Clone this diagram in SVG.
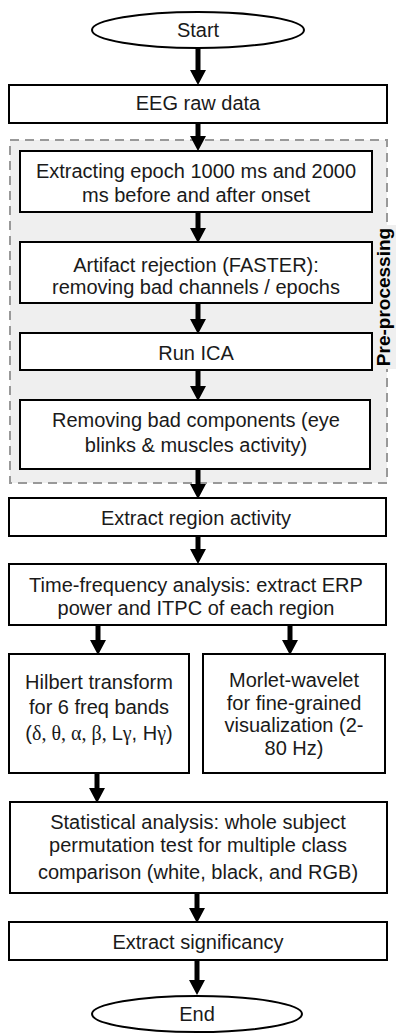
<svg xmlns="http://www.w3.org/2000/svg" width="397" height="1033" viewBox="0 0 397 1033">
<style>
.box{fill:#fff;stroke:#000;stroke-width:2}
.t{font-family:"Liberation Sans",Arial,sans-serif;font-size:20px;fill:#1a1a1a;text-anchor:middle}
.g{font-family:"Liberation Serif","Times New Roman",serif}
.ar{stroke:#000;stroke-width:5;fill:none}
.hd{fill:#000}
</style>
<rect width="397" height="1033" fill="#fff"/>
<g id="preprocessing-region">
<rect x="10" y="140" width="377" height="343" fill="#efefef" stroke="#999" stroke-width="2" stroke-dasharray="9,6"/>
<rect x="376" y="225" width="20" height="144" fill="#efefef"/>
<text transform="translate(390,297) rotate(-90)" font-family="Liberation Sans,Arial,sans-serif" font-size="19" font-weight="bold" fill="#000" text-anchor="middle">Pre-processing</text>
</g>
<g id="connectors">
<line class="ar" x1="198" y1="48" x2="198" y2="72"/><polygon class="hd" points="190,70 206,70 198,85"/>
<line class="ar" x1="198" y1="123" x2="198" y2="138"/><polygon class="hd" points="190,136 206,136 198,151"/>
<line class="ar" x1="198" y1="212" x2="198" y2="230"/><polygon class="hd" points="190,228 206,228 198,243"/>
<line class="ar" x1="198" y1="303" x2="198" y2="321"/><polygon class="hd" points="190,319 206,319 198,334"/>
<line class="ar" x1="198" y1="370" x2="198" y2="388"/><polygon class="hd" points="190,386 206,386 198,401"/>
<line class="ar" x1="198" y1="469" x2="198" y2="486"/><polygon class="hd" points="190,484 206,484 198,499"/>
<line class="ar" x1="198" y1="536" x2="198" y2="551"/><polygon class="hd" points="190,549 206,549 198,564"/>
<line class="ar" x1="98" y1="625" x2="98" y2="642"/><polygon class="hd" points="90,640 106,640 98,655"/>
<line class="ar" x1="290" y1="625" x2="290" y2="642"/><polygon class="hd" points="282,640 298,640 290,655"/>
<line class="ar" x1="97" y1="773" x2="97" y2="790"/><polygon class="hd" points="89,788 105,788 97,803"/>
<line class="ar" x1="197" y1="893" x2="197" y2="910"/><polygon class="hd" points="189,908 205,908 197,923"/>
<line class="ar" x1="197" y1="960" x2="197" y2="982"/><polygon class="hd" points="189,980 205,980 197,995"/>
</g>
<g id="start">
<ellipse cx="198" cy="30" rx="106" ry="18" fill="#fff" stroke="#000" stroke-width="2"/>
<text class="t" x="198" y="37">Start</text>
</g>
<g id="eeg-raw">
<rect class="box" x="9" y="85" width="378" height="38"/>
<text class="t" x="198" y="110" font-size="18">EEG raw data</text>
</g>
<g id="extract-epoch">
<rect class="box" x="20" y="151" width="352" height="61"/>
<text class="t" x="196" y="178">Extracting epoch 1000 ms and 2000</text>
<text class="t" x="196" y="202">ms before and after onset</text>
</g>
<g id="artifact">
<rect class="box" x="20" y="242" width="352" height="61"/>
<text class="t" x="196" y="272">Artifact rejection (FASTER):</text>
<text class="t" x="196" y="294">removing bad channels / epochs</text>
</g>
<g id="run-ica">
<rect class="box" x="20" y="333" width="352" height="37"/>
<text class="t" x="196" y="360">Run ICA</text>
</g>
<g id="remove-components">
<rect class="box" x="20" y="400" width="350" height="69"/>
<text class="t" x="196" y="427">Removing bad components (eye</text>
<text class="t" x="196" y="452">blinks &amp; muscles activity)</text>
</g>
<g id="extract-region">
<rect class="box" x="9" y="498" width="377" height="38"/>
<text class="t" x="196" y="525">Extract region activity</text>
</g>
<g id="time-frequency">
<rect class="box" x="9" y="564" width="377" height="61"/>
<text class="t" x="196" y="592">Time-frequency analysis: extract ERP</text>
<text class="t" x="196" y="615">power and ITPC of each region</text>
</g>
<g id="hilbert">
<rect class="box" x="9" y="654" width="180" height="119"/>
<text class="t" x="99" y="689">Hilbert transform</text>
<text class="t" x="99" y="714">for 6 freq bands</text>
<text class="t" x="99" y="740">(<tspan class="g">δ, θ, α, β, </tspan>L<tspan class="g">γ</tspan>, H<tspan class="g">γ</tspan>)</text>
</g>
<g id="morlet">
<rect class="box" x="203" y="654" width="182" height="119"/>
<text class="t" x="294" y="687">Morlet-wavelet</text>
<text class="t" x="294" y="710">for fine-grained</text>
<text class="t" x="294" y="732">visualization (2-</text>
<text class="t" x="294" y="755">80 Hz)</text>
</g>
<g id="statistical">
<rect class="box" x="10" y="802" width="377" height="91"/>
<text class="t" x="198" y="829">Statistical analysis: whole subject</text>
<text class="t" x="198" y="852">permutation test for multiple class</text>
<text class="t" x="198" y="879">comparison (white, black, and RGB)</text>
</g>
<g id="significancy">
<rect class="box" x="9" y="922" width="378" height="38"/>
<text class="t" x="198" y="949">Extract significancy</text>
</g>
<g id="end">
<ellipse cx="197" cy="1014" rx="105" ry="18" fill="#fff" stroke="#000" stroke-width="2"/>
<text class="t" x="197" y="1021">End</text>
</g>
</svg>
